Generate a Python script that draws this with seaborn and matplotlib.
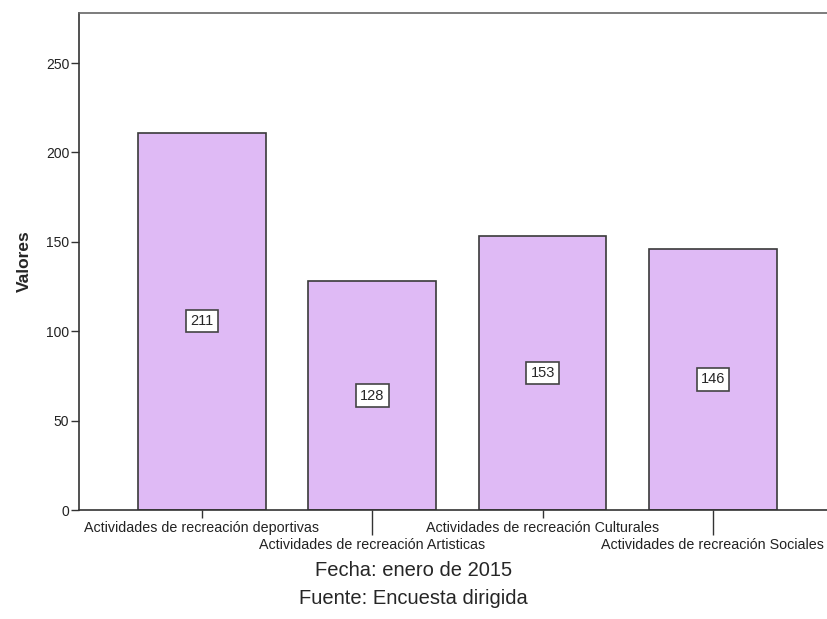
import pandas as pd
import seaborn as sns
import matplotlib.pyplot as plt

# Data
categorias = ["Actividades de recreación deportivas",
              "Actividades de recreación Artisticas",
              "Actividades de recreación Culturales",
              "Actividades de recreación Sociales"]
valores = [211, 128, 153, 146]
yticks = [0, 50, 100, 150, 200, 250]

df = pd.DataFrame({"categoria": categorias, "valor": valores})

sns.set_style("white")
plt.rcParams['font.family'] = ['Liberation Sans', 'DejaVu Sans']

fig = plt.figure(figsize=(8.27, 6.19), dpi=100)
ax = fig.add_axes([79/827, 1 - 510/619, (827 - 79)/827, (510 - 13)/619])

sns.barplot(data=df, x="categoria", y="valor", color="#DFBAF5",
            edgecolor="#3a3a3a", linewidth=1.2, width=0.75, saturation=1, ax=ax)

# value boxes in the middle of the bars
for i, v in enumerate(valores):
    ax.text(i, v / 2, str(v), ha="center", va="center", fontsize=10.5,
            bbox=dict(boxstyle="square,pad=0.28", fc="white", ec="#444444", lw=1.2))

ax.set_xlim(-0.722, 3.67)
ax.set_ylim(0, 278)
ax.set_yticks(yticks)
ax.tick_params(axis="y", labelsize=10, length=6, width=1, color="#333333",
               direction="out", left=True, pad=1, labelcolor="#222222")

# alternating category labels: even ones as major ticks, odd ones as minor ticks
ax.set_xticks([0, 2])
ax.set_xticklabels([categorias[0], categorias[2]])
ax.set_xticks([1, 3], minor=True)
ax.set_xticklabels([categorias[1], categorias[3]], minor=True)
ax.tick_params(axis="x", which="major", length=6, width=1, color="#333333",
               bottom=True, labelsize=10.3, pad=2, labelcolor="#222222")
ax.tick_params(axis="x", which="minor", length=18, width=1, color="#333333",
               bottom=True, labelsize=10.3, pad=2, labelcolor="#222222")
ax.set_xlabel("")
ax.set_ylabel("Valores", fontsize=12.5, fontweight="bold", labelpad=10)

for s in ["left", "bottom"]:
    ax.spines[s].set_color("#333333")
    ax.spines[s].set_linewidth(1.2)
ax.spines["top"].set_color("#666666")
ax.spines["top"].set_linewidth(1.2)
ax.spines["right"].set_visible(False)

fig.text(0.5, 1 - 571/619, "Fecha: enero de 2015", ha="center", va="center", fontsize=14.5)
fig.text(0.5, 1 - 599/619, "Fuente: Encuesta dirigida", ha="center", va="center", fontsize=14.5)

fig.savefig("out.png", dpi=100, facecolor="white")
